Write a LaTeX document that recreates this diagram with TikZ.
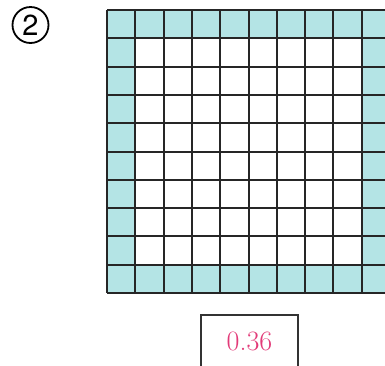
\documentclass[tikz,border=0pt]{standalone}
\usepackage{fontspec}
\newfontfamily\heros{TeX Gyre Heros}
\usetikzlibrary{positioning}
\definecolor{cellcyan}{RGB}{180,228,229}
\definecolor{ansred}{RGB}{226,58,120}
\tikzset{cell/.style={fill=cellcyan},
 gridline/.style={line width=2pt,black!85},
 lbl/.style={draw,circle,line width=1.8pt,minimum size=36pt,inner sep=0pt,font=\heros\fontsize{29}{29}\selectfont},
 ansbox/.style={draw,line width=1.8pt,black!80,minimum width=97pt,minimum height=52pt,text=ansred,font=\fontsize{28}{28}\selectfont}}
\begin{document}
\begin{tikzpicture}[x=1pt,y=-1pt]
\useasboundingbox (0,0) rectangle (385,365);
\def\cw{28.3}
% shaded border cells
\foreach \i in {0,...,9}{
 \fill[cell] (107+\i*\cw,10) rectangle ++(\cw,\cw);
 \fill[cell] (107+\i*\cw,10+9*\cw) rectangle ++(\cw,\cw);
 \fill[cell] (107,10+\i*\cw) rectangle ++(\cw,\cw);
 \fill[cell] (107+9*\cw,10+\i*\cw) rectangle ++(\cw,\cw);}
% grid lines
\foreach \i in {0,...,10}{
 \draw[gridline] (107+\i*\cw,10) -- ++(0,10*\cw);
 \draw[gridline] (107,10+\i*\cw) -- ++(10*\cw,0);}
\node[lbl] (num) at (30.5,25){2};
\node[ansbox] (ans) at (249.5,341){0.36};
\end{tikzpicture}
\end{document}
